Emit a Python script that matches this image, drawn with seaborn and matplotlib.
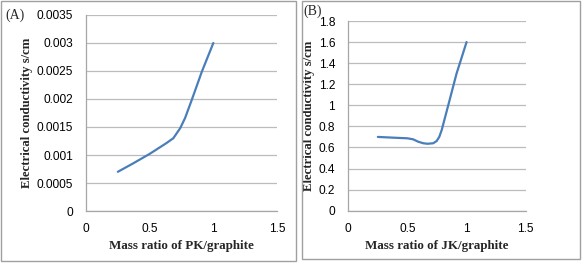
"""
Electrical conductivity vs. mass ratio - two panel line chart (A) PK, (B) JK
"""

import matplotlib
matplotlib.use('Agg')
import matplotlib.pyplot as plt
from matplotlib.patches import Rectangle
from matplotlib.ticker import FuncFormatter
import seaborn as sns
import pandas as pd

# values
pk_ratio = [0.25, 0.37, 0.50, 0.63, 0.686, 0.74, 0.778, 0.83, 0.91, 1.00]
pk_conductivity = [0.0007, 0.00085, 0.00102, 0.00121, 0.0013, 0.00148, 0.00166,
                   0.00198, 0.00249, 0.003]

jk_ratio = [0.25, 0.38, 0.50, 0.549, 0.59, 0.634, 0.67, 0.718, 0.747, 0.769,
            0.79, 0.845, 0.915, 1.00]
jk_conductivity = [0.70, 0.693, 0.687, 0.677, 0.655, 0.64, 0.635, 0.64, 0.661, 0.70,
                   0.766, 1.0, 1.30, 1.60]

x_ticks = [0, 0.5, 1, 1.5]
pk_y_ticks = [0, 0.0005, 0.001, 0.0015, 0.002, 0.0025, 0.003, 0.0035]
jk_y_ticks = [0, 0.2, 0.4, 0.6, 0.8, 1.0, 1.2, 1.4, 1.6, 1.8]

LINE_COLOR = '#4a7ebb'
GRID_COLOR = '#bcbcbc'
AXIS_COLOR = '#a6a6a6'
TICK_FONT = 'Liberation Sans'
LABEL_FONT = 'Liberation Serif'

sns.set_style('white')
plt.rcParams['font.family'] = [TICK_FONT, 'DejaVu Sans']

W, H = 583, 263
fig = plt.figure(figsize=(W / 100, H / 100), dpi=100)


def px_rect(x0, y0, x1, y1):
    # pixel box (top-left origin) -> figure fraction [left, bottom, width, height]
    return [x0 / W, 1 - y1 / H, (x1 - x0) / W, (y1 - y0) / H]


def draw_panel(ax, x, y, yticks, xlabel, tag, tag_xy):
    df = pd.DataFrame({'ratio': x, 'cond': y})
    sns.lineplot(data=df, x='ratio', y='cond', ax=ax, color=LINE_COLOR,
                 linewidth=1.6, sort=False, estimator=None)

    ax.set_xlim(0, 1.5)
    ax.set_ylim(yticks[0], yticks[-1])
    ax.set_xticks(x_ticks)
    ax.set_yticks(yticks)
    fmt = FuncFormatter(lambda v, _: f'{v:g}')
    ax.xaxis.set_major_formatter(fmt)
    ax.yaxis.set_major_formatter(fmt)

    ax.grid(axis='y', color=GRID_COLOR, linewidth=0.9)
    ax.grid(axis='x', visible=False)
    ax.set_axisbelow(True)
    for side in ['top', 'right']:
        ax.spines[side].set_visible(False)
    for side in ['left', 'bottom']:
        ax.spines[side].set_color(AXIS_COLOR)
        ax.spines[side].set_linewidth(0.9)

    ax.tick_params(axis='both', direction='out', length=3.5, width=0.8,
                   color=AXIS_COLOR, labelsize=8.6, labelcolor='black')
    ax.tick_params(axis='y', pad=6)
    ax.tick_params(axis='x', pad=5)

    ax.set_xlabel(xlabel, fontsize=9.4, fontweight='bold',
                  family=LABEL_FONT, labelpad=4)
    ax.set_ylabel('Electrical conductivity s/cm', fontsize=9.2,
                  fontweight='bold', family=LABEL_FONT)

    fig.text(tag_xy[0] / W, 1 - tag_xy[1] / H, tag, fontsize=10,
             family=LABEL_FONT, ha='left', va='center')


ax1 = fig.add_axes(px_rect(86, 15, 277, 211))
draw_panel(ax1, pk_ratio, pk_conductivity, pk_y_ticks,
           'Mass ratio of PK/graphite', '(A)', (5, 15))
ax1.yaxis.set_label_coords(-0.28, 0.5)

ax2 = fig.add_axes(px_rect(348.3, 21, 525.7, 210.7))
draw_panel(ax2, jk_ratio, jk_conductivity, jk_y_ticks,
           'Mass ratio of JK/graphite', '(B)', (303, 11))
ax2.yaxis.set_label_coords(-0.19, 0.5)

# panel frames
for x0, y0, x1, y1 in [(1, 1, 296, 261), (302, 1, 580, 259)]:
    fig.patches.append(Rectangle((x0 / W, 1 - y1 / H), (x1 - x0) / W, (y1 - y0) / H,
                                 transform=fig.transFigure, fill=False,
                                 edgecolor='#a0a0a0', linewidth=1.0))

fig.savefig('out.png', dpi=100)
